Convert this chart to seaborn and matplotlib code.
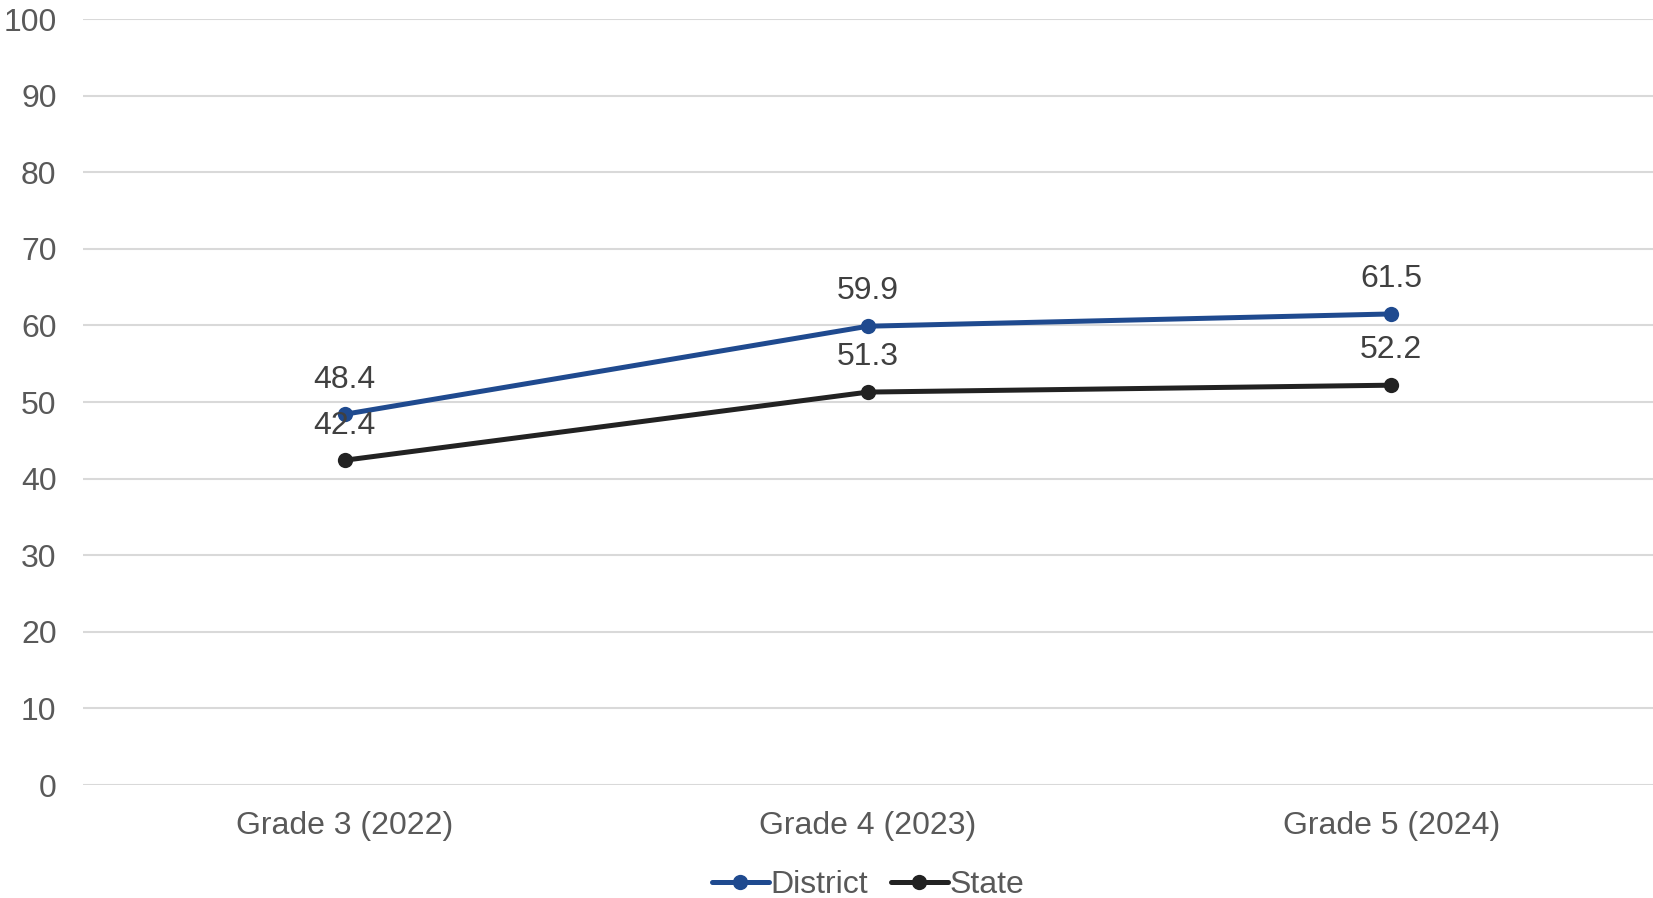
import numpy as np
import pandas as pd
import matplotlib
matplotlib.use("Agg")
import matplotlib.pyplot as plt
import seaborn as sns

# data
grades = ["Grade 3 (2022)", "Grade 4 (2023)", "Grade 5 (2024)"]
district = [48.4, 59.9, 61.5]
state = [42.4, 51.3, 52.2]

df = pd.DataFrame({
    "grade": grades * 2,
    "value": district + state,
    "group": ["District"] * 3 + ["State"] * 3,
})
df["pos"] = list(range(3)) * 2

sns.set_style("white")
plt.rcParams['font.family'] = ['Liberation Sans', 'DejaVu Sans']

fig = plt.figure(figsize=(16.53, 8.98), dpi=100)
ax = fig.add_axes([0.0502, 0.1258, 0.9498, 0.853])

palette = {"District": "#1f4a8f", "State": "#222222"}
sns.lineplot(data=df, x="pos", y="value", hue="group", palette=palette,
             marker="o", markersize=11, markeredgewidth=0, linewidth=3.6,
             ax=ax, legend=True)

# data labels above points
for _, r in df.iterrows():
    ax.annotate(f"{r['value']:.1f}", (r["pos"], r["value"]), xytext=(0, 25),
                textcoords="offset points", ha="center", va="center",
                fontsize=23, color="#404040")

ax.set_xlim(-0.5, 2.5)
ax.set_ylim(0, 100)
ax.set_yticks(np.arange(0, 101, 10))
ax.set_xticks(range(3))
ax.set_xticklabels(grades)
ax.tick_params(axis="both", length=0, labelsize=23, labelcolor="#595959")
ax.tick_params(axis="y", pad=19)
ax.tick_params(axis="x", pad=19)
ax.set_xlabel("")
ax.set_ylabel("")
ax.grid(axis="y", color="#d9d9d9", linewidth=1.5)
ax.set_axisbelow(True)
for s in ax.spines.values():
    s.set_visible(False)

leg = ax.legend(loc="center", bbox_to_anchor=(0.5, -0.131), ncol=2,
                frameon=False, fontsize=23, handlelength=1.8,
                handletextpad=0.05, columnspacing=0.7, borderpad=0.2)
for t in leg.get_texts():
    t.set_color("#595959")

fig.savefig("out.png", dpi=100)
